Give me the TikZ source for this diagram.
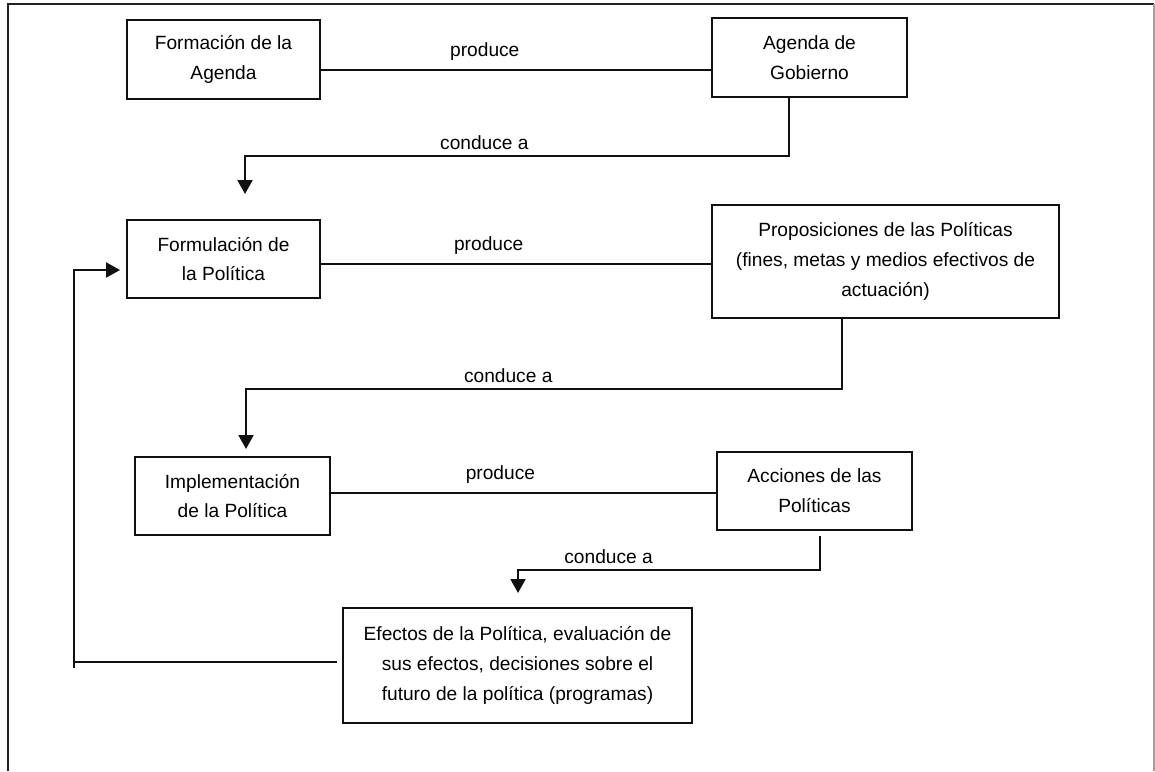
\documentclass[tikz,border=0pt]{standalone}
\usepackage{fontspec}
\setmainfont{Liberation Sans}
\usetikzlibrary{arrows.meta}

\definecolor{pcLine}{HTML}{111111}
\definecolor{pcFrame}{HTML}{222222}
\definecolor{pcFrameGrey}{HTML}{A0A0A0}

\begin{document}
\begin{tikzpicture}[x=0.02cm,y=-0.02cm,font=\fontsize{10.9}{17}\selectfont,
    pcbox/.style={draw=pcLine,line width=1.1pt,align=center,inner sep=2pt},
    pclink/.style={draw=pcLine,line width=1.1pt},
    pctip/.style={-{Triangle[length=0.28cm,width=0.3cm]}},
    pclabel/.style={above,inner sep=3pt}]
  \useasboundingbox (0,0) rectangle (1155,771);

  % ---- frame ----
  \draw[pcFrame,line width=1.1pt] (8,771) -- (8,4) -- (1154,4);
  \draw[pcFrameGrey,line width=1.1pt] (1154,4) -- (1154,771);

  % ---- boxes ----
  \node[pcbox,minimum width=3.86cm,minimum height=1.58cm] (form) at (223.5,59.5)
        {Formación de la\\Agenda};
  \node[pcbox,minimum width=3.9cm,minimum height=1.58cm]  (agen) at (809.5,57.5)
        {Agenda de\\Gobierno};
  \node[pcbox,minimum width=3.86cm,minimum height=1.56cm] (formu) at (223.5,259)
        {Formulación de\\la Política};
  \node[pcbox,minimum width=6.94cm,minimum height=2.26cm] (prop) at (885.5,261.5)
        {Proposiciones de las Políticas\\(fines, metas y medios efectivos de\\actuación)};
  \node[pcbox,minimum width=3.9cm,minimum height=1.56cm]  (impl) at (232.5,496)
        {Implementación\\de la Política};
  \node[pcbox,minimum width=3.9cm,minimum height=1.56cm]  (acc) at (814.5,491)
        {Acciones de las\\Políticas};
  \node[pcbox,minimum width=6.98cm,minimum height=2.3cm]  (efec) at (517.5,665.5)
        {Efectos de la Política, evaluación de\\sus efectos, decisiones sobre el\\futuro de la política (programas)};

  % ---- arrow ends ----
  \coordinate (endAgen) at (245,194);
  \coordinate (endProp) at (246,449);
  \coordinate (endAcc)  at (518,593);
  \coordinate (back)    at (74,662);

  % ---- produce ----
  \draw[pclink] ([yshift=-0.21cm]form.east) -- node[pclabel,pos=0.42,yshift=2pt] {produce}
        ([yshift=-0.21cm]form.east -| agen.west);
  \draw[pclink] ([yshift=-0.1cm]formu.east) -- node[pclabel,pos=0.43,yshift=2pt] {produce}
        ([yshift=-0.1cm]formu.east -| prop.west);
  \draw[pclink] ([yshift=0.06cm]impl.east) -- node[pclabel,pos=0.44,yshift=2pt] {produce}
        ([yshift=0.06cm]impl.east -| acc.west);

  % ---- conduce a ----
  \draw[pclink,pctip] ([xshift=-0.41cm]agen.south) -- ++(0,58)
        -| node[pclabel,pos=0.28] {conduce a} (endAgen);
  \draw[pclink,pctip] ([xshift=-0.87cm]prop.south) -- ++(0,70)
        -| node[pclabel,pos=0.28] {conduce a} (endProp);
  \draw[pclink,pctip] ([xshift=0.11cm,yshift=-0.1cm]acc.south) -- ++(0,34)
        -| node[pclabel,pos=0.35] {conduce a} (endAcc);

  % ---- feedback ----
  \draw[pclink,pctip] ([xshift=-0.1cm]efec.west |- back) -- (back)
        |- ([xshift=-0.12cm,yshift=-0.22cm]formu.west);
  \draw[pclink] (back) -- ++(0,6);
\end{tikzpicture}
\end{document}
